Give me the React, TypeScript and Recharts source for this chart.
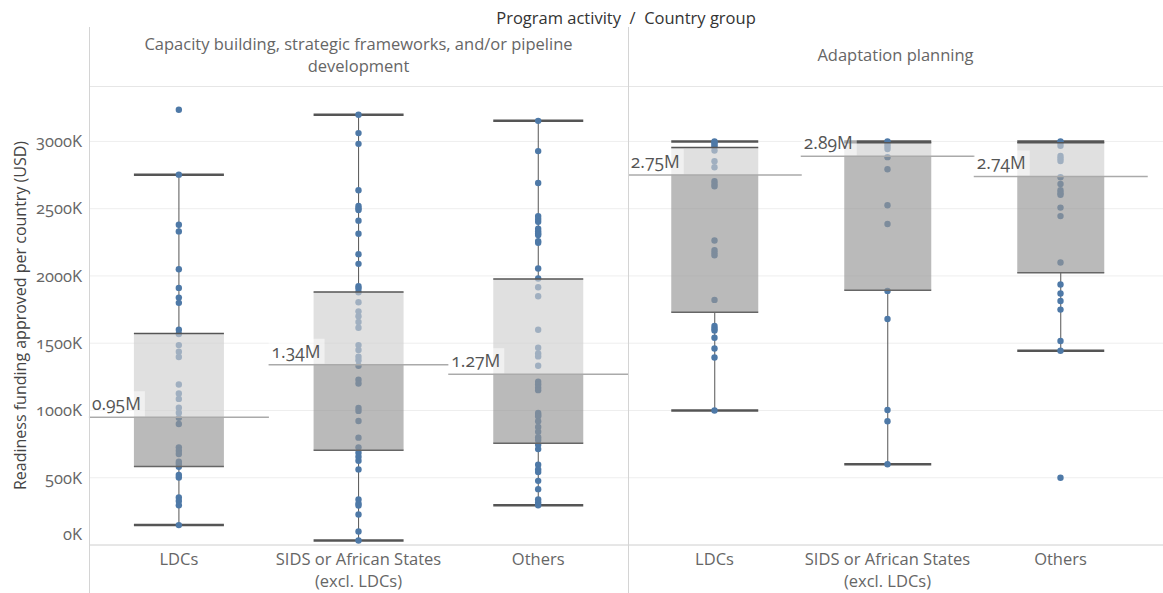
import React from "react";
import { Bar, CartesianGrid, ComposedChart, Scatter, XAxis, YAxis } from "recharts";

const groups = ["LDCs", "SIDS or African States (excl. LDCs)", "Others"];
const yTicks = [0, 500, 1000, 1500, 2000, 2500, 3000];

// values in thousand USD
const capWhiskerLow = [148, 33, 295];
const capQ1 = [584, 704, 756];
const capMedian = [950, 1340, 1270];
const capQ3 = [1573, 1881, 1978];
const capWhiskerHigh = [2753, 3198, 3153];

const adaWhiskerLow = [1000, 600, 1444];
const adaQ1 = [1730, 1894, 2023];
const adaMedian = [2750, 2890, 2740];
const adaQ3 = [2955, 2990, 2990];
const adaWhiskerHigh = [3000, 3000, 3000];

const capLdcs = [3235, 2753, 2381, 2331, 2050, 1911, 1839, 1800, 1600, 1568, 1486, 1436, 1397, 1193, 1126, 1086, 1021, 984, 945, 900, 726, 701, 676, 619, 602, 581, 520, 502, 353, 328, 296, 148];
const capSids = [3198, 3062, 2982, 2637, 2520, 2503, 2490, 2411, 2314, 2162, 2090, 1923, 1906, 1879, 1804, 1737, 1700, 1658, 1615, 1486, 1449, 1399, 1374, 1332, 1228, 1200, 1019, 997, 922, 798, 726, 686, 656, 626, 562, 338, 309, 294, 227, 100, 33];
const capOthers = [3153, 2928, 2691, 2445, 2423, 2403, 2351, 2333, 2316, 2304, 2259, 2247, 2055, 1981, 1916, 1849, 1600, 1466, 1424, 1402, 1332, 1213, 1193, 1170, 1151, 982, 967, 957, 920, 877, 842, 801, 780, 745, 713, 596, 562, 542, 477, 415, 338, 316, 295];

const adaLdcs = [3000, 2990, 2975, 2960, 2933, 2853, 2808, 2704, 2684, 2667, 2264, 2192, 2172, 2154, 1822, 1628, 1610, 1595, 1541, 1461, 1394, 1000];
const adaSids = [3000, 2980, 2963, 2943, 2883, 2793, 2525, 2386, 1889, 1680, 1004, 920, 600];
const adaOthers = [3000, 2990, 2967, 2892, 2873, 2855, 2734, 2684, 2637, 2617, 2604, 2508, 2445, 2100, 1936, 1869, 1814, 1750, 1516, 1444, 500];

const boxRows = (lo: number[], q1: number[], med: number[], q3: number[], hi: number[]) =>
  groups.map((g, i) => ({
    group: g,
    base: lo[i],
    lw: q1[i] - lo[i],
    lb: med[i] - q1[i],
    ub: q3[i] - med[i],
    uw: hi[i] - q3[i],
    median: med[i],
  }));

const dotRows = (lists: number[][]) =>
  groups.flatMap((g, i) => lists[i].map((v) => ({ group: g, v })));

const capRows = boxRows(capWhiskerLow, capQ1, capMedian, capQ3, capWhiskerHigh);
const adaRows = boxRows(adaWhiskerLow, adaQ1, adaMedian, adaQ3, adaWhiskerHigh);
const capDots = dotRows([capLdcs, capSids, capOthers]);
const adaDots = dotRows([adaLdcs, adaSids, adaOthers]);

const DARK = "#555";
const FS = 16.5;

const LowWhisker = (p: any) => {
  const { x, y, width, height } = p;
  const cx = x + width / 2;
  return (
    <g>
      <line x1={cx} x2={cx} y1={y} y2={y + height} stroke={DARK} strokeWidth={1} />
      <line x1={x} x2={x + width} y1={y + height} y2={y + height} stroke={DARK} strokeWidth={2.5} />
    </g>
  );
};

const HighWhisker = (p: any) => {
  const { x, y, width, height } = p;
  const cx = x + width / 2;
  return (
    <g>
      <line x1={cx} x2={cx} y1={y} y2={y + height} stroke={DARK} strokeWidth={1} />
      <line x1={x} x2={x + width} y1={y} y2={y} stroke={DARK} strokeWidth={2.5} />
    </g>
  );
};

const LowerBox = (p: any) => {
  const { x, y, width, height } = p;
  return (
    <g>
      <rect x={x} y={y} width={width} height={height} fill="#969696" fillOpacity={0.655} />
      <line x1={x} x2={x + width} y1={y + height} y2={y + height} stroke="#666" strokeWidth={1.5} />
    </g>
  );
};

const UpperBox = (p: any) => {
  const { x, y, width, height, payload } = p;
  const left = x - width / 2;
  const right = x + width * 1.5;
  const my = y + height;
  return (
    <g>
      <rect x={x} y={y} width={width} height={height} fill="#cfcfcf" fillOpacity={0.64} />
      <line x1={x} x2={x + width} y1={y} y2={y} stroke={DARK} strokeWidth={1.5} />
      <line x1={left} x2={right} y1={my} y2={my} stroke="#aaa" strokeWidth={1.5} />
      <rect x={left} y={my - 26} width={56} height={25} fill="#fff" fillOpacity={0.5} />
      <text x={left + 3} y={my - 7} fontSize={17.5} fill="#555">
        {(payload.median / 1000).toFixed(2)}M
      </text>
    </g>
  );
};

const Dot = (p: any) => <circle cx={p.cx} cy={p.cy} r={3.2} fill="#4e79a7" />;

const CatTick = (p: any) => {
  const { x, y, payload } = p;
  const lines = String(payload.value).replace(" (", "\n(").split("\n");
  return (
    <text x={x} y={y} textAnchor="middle" fill="#666" fontSize={FS}>
      {lines.map((t, i) => (
        <tspan key={i} x={x} dy={i === 0 ? 20 : 22}>
          {t}
        </tspan>
      ))}
    </text>
  );
};

const ValueTick = (p: any) => {
  const { x, y, payload } = p;
  return (
    <text x={x} y={payload.value === 0 ? y - 11 : y} dy="0.35em" textAnchor="end" fill="#666" fontSize={FS}>
      {payload.value}K
    </text>
  );
};

function Panel({ rows, dots, width, showAxis }: any) {
  return (
    <ComposedChart
      width={width}
      height={507}
      data={rows}
      margin={{ top: 0, right: 0, bottom: 0, left: 0 }}
      barCategoryGap="25%"
    >
      <CartesianGrid vertical={false} stroke="#eeeeee" />
      <XAxis
        dataKey="group"
        allowDuplicatedCategory={false}
        height={48}
        tickLine={false}
        tickSize={0}
        tickMargin={0}
        axisLine={{ stroke: "#d6d6d6" }}
        tick={<CatTick />}
        interval={0}
        padding={showAxis ? { left: 0, right: 0 } : { left: 0, right: 16 }}
      />
      <YAxis
        type="number"
        domain={[0, 3412]}
        ticks={yTicks}
        allowDataOverflow
        width={89}
        hide={!showAxis}
        axisLine={false}
        tickLine={false}
        tickSize={0}
        tickMargin={7}
        tick={<ValueTick />}
        label={
          showAxis
            ? {
                value: "Readiness funding approved per country (USD)",
                angle: -90,
                position: "insideLeft",
                offset: 20,
                style: { textAnchor: "middle", fill: "#444", fontSize: 16 },
              }
            : undefined
        }
      />
      <Bar dataKey="base" stackId="box" fill="none" isAnimationActive={false} />
      <Bar dataKey="lw" stackId="box" shape={<LowWhisker />} isAnimationActive={false} />
      <Scatter data={dots} dataKey="v" shape={<Dot />} isAnimationActive={false} zIndex={600} />
      <Bar dataKey="lb" stackId="box" shape={<LowerBox />} isAnimationActive={false} zIndex={700} />
      <Bar dataKey="ub" stackId="box" shape={<UpperBox />} isAnimationActive={false} zIndex={700} />
      <Bar dataKey="uw" stackId="box" shape={<HighWhisker />} isAnimationActive={false} />
    </ComposedChart>
  );
}

export default function App() {
  const font = '"Open Sans", "DejaVu Sans", sans-serif';
  return (
    <div
      style={{
        position: "absolute",
        left: 0,
        top: 0,
        width: 1163,
        height: 593,
        background: "#fff",
        fontFamily: font,
        fontVariantNumeric: "oldstyle-nums",
        overflow: "hidden",
      }}
    >
      <div style={{ position: "absolute", left: 89, width: 1074, top: 6, textAlign: "center", fontSize: FS, color: "#333" }}>
        Program activity&nbsp; /&nbsp; Country group
      </div>
      <div style={{ position: "absolute", left: 89, width: 539, top: 33, textAlign: "center", fontSize: FS, lineHeight: "22px", color: "#666" }}>
        Capacity building, strategic frameworks, and/or pipeline
        <br />
        development
      </div>
      <div style={{ position: "absolute", left: 628, width: 535, top: 44, textAlign: "center", fontSize: FS, lineHeight: "22px", color: "#666" }}>
        Adaptation planning
      </div>
      <div style={{ position: "absolute", left: 0, top: 86 }}>
        <Panel rows={capRows} dots={capDots} width={628} showAxis />
      </div>
      <div style={{ position: "absolute", left: 628, top: 86 }}>
        <Panel rows={adaRows} dots={adaDots} width={535} showAxis={false} />
      </div>
      <div style={{ position: "absolute", left: 89, top: 86, width: 1074, height: 1, background: "#e6e6e6" }} />
      <div style={{ position: "absolute", left: 89, top: 27, width: 1, height: 566, background: "#d4d4d4" }} />
      <div style={{ position: "absolute", left: 628, top: 27, width: 1, height: 566, background: "#d4d4d4" }} />
    </div>
  );
}
